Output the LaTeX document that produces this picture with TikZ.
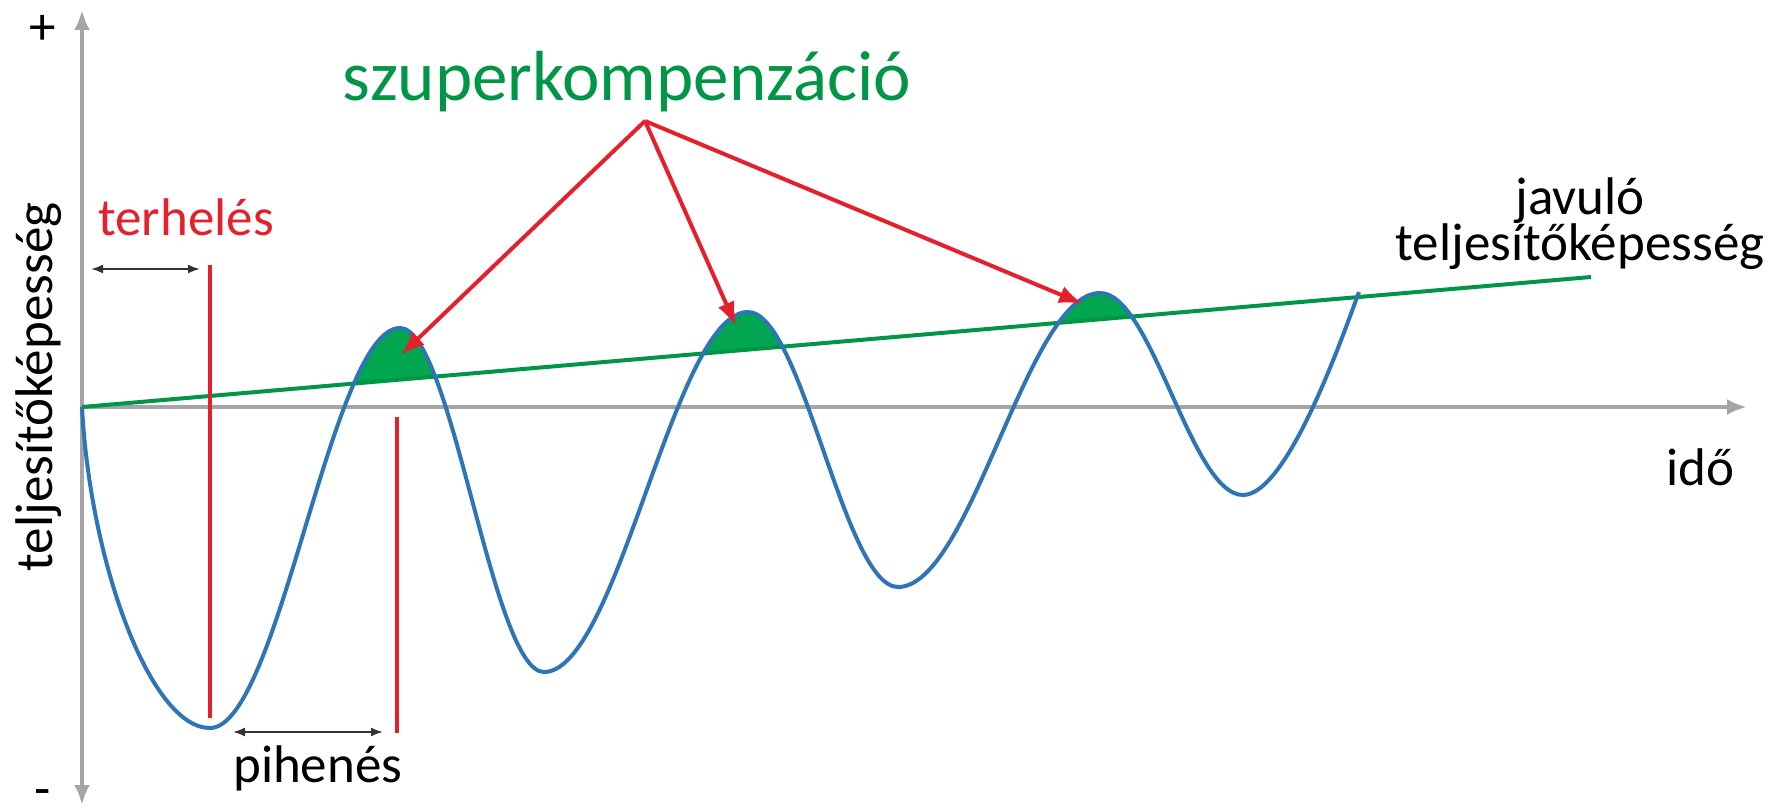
\documentclass[tikz,border=0pt]{standalone}
\usepackage{fontspec}
\setmainfont{Carlito}
\usetikzlibrary{arrows.meta}

\definecolor{curveblue}{RGB}{46,117,182}
\definecolor{gaingreen}{RGB}{0,150,70}
\definecolor{peakgreen}{RGB}{0,166,80}
\definecolor{loadred}{RGB}{228,32,44}
\definecolor{axisgray}{RGB}{165,165,165}
\definecolor{spangray}{RGB}{50,50,50}

\begin{document}
\begin{tikzpicture}[
    x=1pt, y=-1pt,
    axis/.style={axisgray, line width=4pt},
    perf/.style={curveblue, line width=4pt},
    trend/.style={gaingreen, line width=4pt},
    marker/.style={loadred, line width=3.5pt},
    pointer/.style={loadred, line width=4pt, -{Latex[length=24pt,width=18pt]}},
    span/.style={spangray, line width=2pt, {Latex[length=12pt,width=9pt]}-{Latex[length=12pt,width=9pt]}},
    lbl/.style={font={\fontsize{53}{46}\selectfont\lineskiplimit=-100pt\relax}, inner sep=0pt}
]
\useasboundingbox (0,0) rectangle (1777,808);

% Define points
\coordinate (o) at (82,407);
\coordinate (ytop) at (82,10);
\coordinate (ybot) at (82,805);
\coordinate (xend) at (1747,407);
\coordinate (t1) at (1591,277);
\coordinate (m1) at (210,728);
\coordinate (p1) at (400,328);
\coordinate (m2) at (544,672);
\coordinate (p2) at (748,312);
\coordinate (m3) at (898,587);
\coordinate (p3) at (1100,293);
\coordinate (m4) at (1243,495);
\coordinate (e) at (1359,292);

% Gain above the trend line
\begin{scope}
\clip (o) -- (t1) -- (1591,0) -- (82,0) -- cycle;
\fill[peakgreen] (o) .. controls +(8,154) and +(-60,0) .. (m1)
    .. controls +(69,0) and +(-69,0) .. (p1)
    .. controls +(52,0) and +(-52,0) .. (m2)
    .. controls +(74,0) and +(-74,0) .. (p2)
    .. controls +(54,0) and +(-54,0) .. (m3)
    .. controls +(73,0) and +(-73,0) .. (p3)
    .. controls +(52,0) and +(-52,0) .. (m4) -- cycle;
\end{scope}

% Axes
\draw[axis, {Latex[length=20pt,width=16pt]}-{Latex[length=20pt,width=16pt]}] (ybot) -- (ytop);
\draw[axis, -{Latex[length=20pt,width=16pt]}] (o) -- (xend);

% Trend line and curve
\draw[trend] (o) -- (t1);
\draw[perf] (o) .. controls +(8,154) and +(-60,0) .. (m1)
    .. controls +(69,0) and +(-69,0) .. (p1)
    .. controls +(52,0) and +(-52,0) .. (m2)
    .. controls +(74,0) and +(-74,0) .. (p2)
    .. controls +(54,0) and +(-54,0) .. (m3)
    .. controls +(73,0) and +(-73,0) .. (p3)
    .. controls +(52,0) and +(-52,0) .. (m4)
    .. controls +(45,0) and +(-15,40) .. (e);

% Load and rest markers
\coordinate (l1top) at (210,265);
\coordinate (l1bot) at (210,718);
\coordinate (l2top) at (397,417);
\coordinate (l2bot) at (397,733);
\draw[marker] (l1top) -- (l1bot);
\draw[marker] (l2top) -- (l2bot);
\coordinate (ls) at (91,269);
\coordinate (le) at (200,269);
\coordinate (rs) at (233,732);
\coordinate (re) at (383,732);
\draw[span] (ls) -- (le);
\draw[span] (rs) -- (re);

% Labels
\node[lbl, anchor=base] (plus) at (43,45) {+};
\node[lbl, anchor=base] (minus) at (43,806) {-};
\node[lbl, rotate=90, anchor=base] (perfaxis) at (52,387) {teljesítőképesség};
\node[lbl, anchor=base west] (time) at (1666,485) {idő};
\node[lbl, loadred, anchor=base west] (load) at (98,235) {terhelés};
\node[lbl, anchor=base west] (rest) at (233,782) {pihenés};
\node[lbl, align=center, anchor=base] (gain) at (1580,260) {javuló\\teljesítőképesség};
\node[font=\fontsize{71}{85}\selectfont, gaingreen, inner sep=0pt, anchor=base] (super) at (627,100) {szuperkompenzáció};

% Pointers
\coordinate (apex) at (645,121);
\coordinate (tip1) at (401,355);
\coordinate (tip2) at (736,326);
\coordinate (tip3) at (1083,304);
\draw[pointer] (apex) -- (tip1);
\draw[pointer] (apex) -- (tip2);
\draw[pointer] (apex) -- (tip3);

\end{tikzpicture}
\end{document}
